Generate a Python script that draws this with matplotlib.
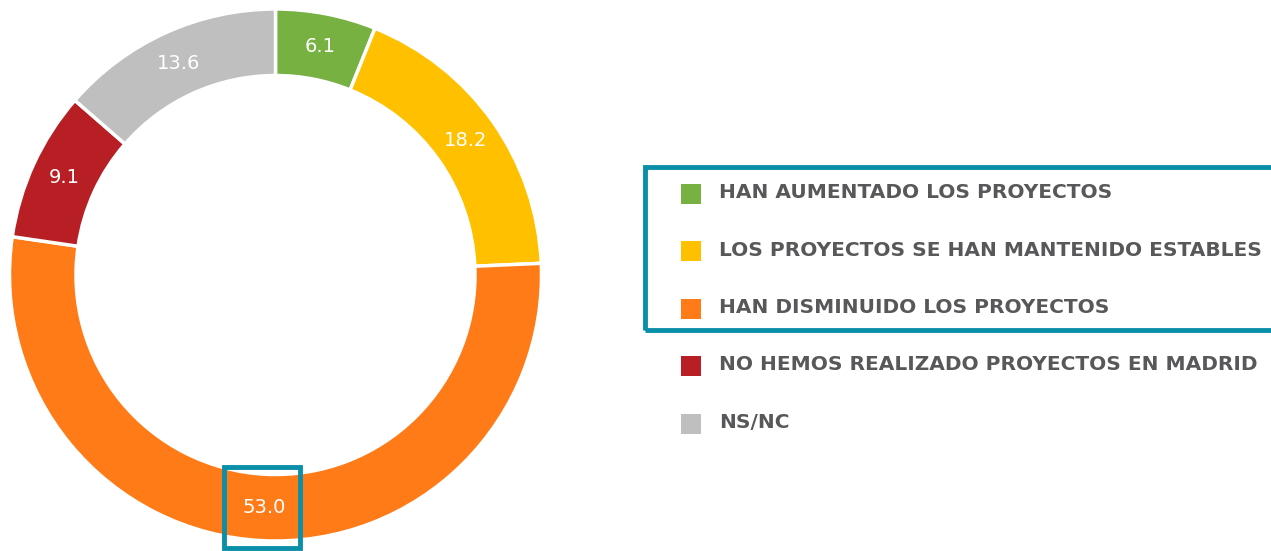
import matplotlib.pyplot as plt
from matplotlib.patches import Rectangle

# Datos
categorias = [
    "HAN AUMENTADO LOS PROYECTOS",
    "LOS PROYECTOS SE HAN MANTENIDO ESTABLES",
    "HAN DISMINUIDO LOS PROYECTOS",
    "NO HEMOS REALIZADO PROYECTOS EN MADRID",
    "NS/NC",
]
valores = [6.1, 18.2, 53.0, 9.1, 13.6]
colores = ["#77b142", "#ffc000", "#ff7b17", "#b71f24", "#bfbfbf"]

W, H = 1271, 551
fig = plt.figure(figsize=(W / 100, H / 100), dpi=100)

# Donut
cx, cy, r = 275.5, 276, 266
ax = fig.add_axes([(cx - r) / W, (cy - r) / H, 2 * r / W, 2 * r / H])
wedges, textos = ax.pie(
    valores, colors=colores, startangle=90, counterclock=False,
    radius=1, labels=[f"{v:.1f}" for v in valores], labeldistance=0.875,
    wedgeprops=dict(width=0.25, edgecolor="white", linewidth=2.5),
    textprops=dict(color="white", fontsize=14, family="DejaVu Sans"),
)
for t in textos:
    t.set_ha("center")
    t.set_va("center")
ax.set_xlim(-1, 1)
ax.set_ylim(-1, 1)
ax.set_aspect("equal")
ax.axis("off")

teal = "#0a8fa8"
# Recuadro sobre el valor 53.0
fig.add_artist(Rectangle((224 / W, (H - 548) / H), 76 / W, 81 / H,
                         transform=fig.transFigure, fill=False,
                         edgecolor=teal, linewidth=3.5, clip_on=False))
# Recuadro de la leyenda
fig.add_artist(Rectangle((645 / W, (H - 330) / H), 640 / W, 163 / H,
                         transform=fig.transFigure, fill=False,
                         edgecolor=teal, linewidth=3.5, clip_on=False))

# Leyenda
y0, paso = 192.5, 57.5
for i, (cat, col) in enumerate(zip(categorias, colores)):
    y = y0 + i * paso
    fig.add_artist(Rectangle((681 / W, (H - y - 11) / H), 20 / W, 20 / H,
                             transform=fig.transFigure, facecolor=col,
                             edgecolor="none"))
    fig.text(719 / W, (H - y) / H, cat, ha="left", va="center",
             fontsize=14.5, fontweight="bold", family="DejaVu Sans",
             color="#58585b")

fig.savefig("out.png", dpi=100)
